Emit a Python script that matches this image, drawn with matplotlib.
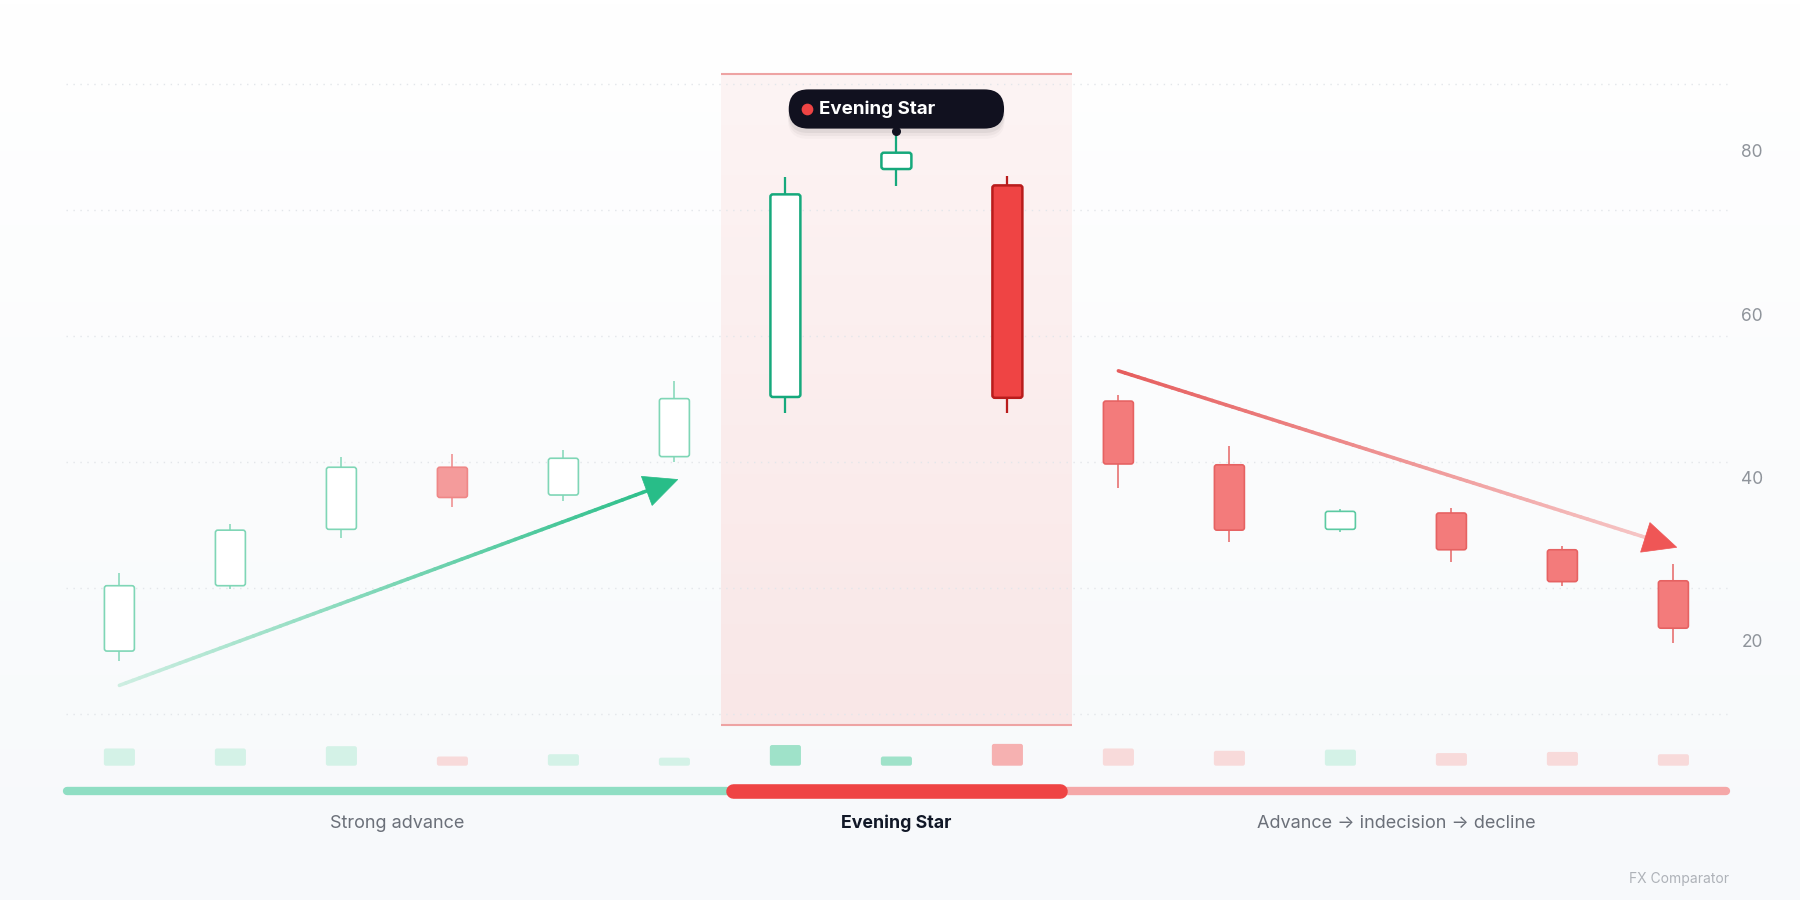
import numpy as np
import matplotlib
matplotlib.use("Agg")
import matplotlib.pyplot as plt
from matplotlib.patches import FancyBboxPatch, Polygon
from matplotlib.collections import LineCollection
from matplotlib.transforms import blended_transform_factory
import matplotlib.colors as mcolors

plt.rcParams['font.family'] = ['Inter', 'DejaVu Sans']

# ---------------- data ----------------
opens  = [19.0, 27.0, 33.9, 41.5, 38.1, 42.8, 50.1, 78.0, 76.0, 49.6, 41.8, 33.9, 35.9, 31.4, 27.6]
highs  = [28.6, 34.5, 42.8, 43.1, 43.6, 52.0, 77.0, 82.6, 77.1, 50.4, 44.1, 36.4, 36.5, 31.9, 29.7]
lows   = [17.8, 26.6, 32.9, 36.6, 37.4, 42.1, 48.1, 75.9, 48.1, 39.0, 32.4, 33.6, 29.9, 27.0, 20.0]
closes = [27.0, 33.8, 41.5, 37.8, 42.6, 49.9, 74.9, 80.0, 50.0, 41.9, 33.8, 36.1, 31.4, 27.5, 21.8]
volumes = [15, 15, 17, 8, 10, 7, 18, 8, 19, 15, 13, 14, 11, 12, 10]
pattern_idx = [6, 7, 8]
pattern_name = "Evening Star"
phase_labels = ["Strong advance", "Evening Star", "Advance \u2192 indecision \u2192 decline"]
phase_start = [-0.5, 5.5, 8.5]
phase_end = [5.5, 8.5, 14.5]
y_ticks = [20, 40, 60, 80]
grid_levels = [88.4, 73.0, 57.6, 42.2, 26.7, 11.3]
highlight_range = (10.0, 89.6)
trend_up = [(0.0, 14.8), (5.03, 40.0)]
trend_down = [(9.0, 53.3), (14.03, 31.7)]

# ---------------- layout ----------------
W, H, DPI = 18, 9, 100
fig = plt.figure(figsize=(W, H), dpi=DPI)
Wpx, Hpx = W * DPI, H * DPI
x0_px, dx_px = 119.4, 111.0
y80_px, ppu = 152.7, 8.17

# background gradient
bg = fig.add_axes([0, 0, 1, 1], zorder=-10)
grad = np.linspace(0, 1, 256)[:, None]
bg_cmap = mcolors.LinearSegmentedColormap.from_list("bg", ["#ffffff", "#f7f9fb"])
bg.imshow(grad, aspect="auto", cmap=bg_cmap, extent=[0, 1, 0, 1], origin="upper")
bg.set_axis_off()

ax = fig.add_axes([0, 0, 1, 1])
ax.patch.set_alpha(0)
xlim = (-x0_px / dx_px, (Wpx - x0_px) / dx_px)
ylim = (80 - (Hpx - y80_px) / ppu, 80 + y80_px / ppu)
ax.set_xlim(*xlim)
ax.set_ylim(*ylim)
ax.set_axis_off()
asp = ((ylim[1] - ylim[0]) / Hpx) / ((xlim[1] - xlim[0]) / Wpx)

# highlight band
b0, b1 = pattern_idx[0] - 0.58, pattern_idx[-1] + 0.58
band_cmap = mcolors.LinearSegmentedColormap.from_list("band", ["#fdf4f4", "#f9e7e7"])
ax.imshow(grad, aspect="auto", cmap=band_cmap, extent=[b0, b1, highlight_range[0], highlight_range[1]],
          origin="upper", zorder=0)
for yv in highlight_range:
    ax.plot([b0, b1], [yv, yv], color="#eea3a3", lw=1.5, zorder=1, solid_capstyle="butt")

# grid
for g in grid_levels:
    ax.plot([phase_start[0] + 0.02, phase_end[-1] - 0.02], [g, g], color="#e3e6ea", lw=1.0,
            linestyle=(0, (1, 4)), zorder=1)

# y tick labels
tr_lbl = blended_transform_factory(fig.transFigure, ax.transData)
for t in y_ticks:
    ax.text(1752 / Wpx, t, str(t), transform=tr_lbl, ha="center", va="center",
            fontsize=12.5, color="#8f949b")

# candles
bw = 0.27
for i, (o, h, l, c) in enumerate(zip(opens, highs, lows, closes)):
    bull = c >= o
    pat = i in pattern_idx
    if pat:
        if bull:
            face, edge, lw = "#ffffff", "#16a97c", 1.8
        else:
            face, edge, lw = "#ef4444", "#b91c1c", 1.8
    else:
        if bull:
            face, edge, lw = "#ffffff", "#7fd6b6", 1.2
            if i > pattern_idx[-1]:
                edge = "#5ccaa2"
        else:
            if i < pattern_idx[0]:
                face, edge, lw = "#f49b9b", "#ef8787", 1.2
            else:
                face, edge, lw = "#f37b7b", "#e66262", 1.2
    ax.plot([i, i], [l, h], color=edge, lw=lw * 0.9, zorder=3, solid_capstyle="butt")
    lo, hi = min(o, c), max(o, c)
    box = FancyBboxPatch((i - bw / 2, lo), bw, hi - lo,
                         boxstyle="round,pad=0,rounding_size=0.022", mutation_aspect=asp,
                         facecolor=face, edgecolor=edge, lw=lw, zorder=4)
    ax.add_patch(box)


# gradient arrows
def gradient_arrow(p_start, p_end, c0, c1, head_c, lw=2.6, head_len=33, head_w=31, n=80):
    P0 = ax.transData.transform(p_start)
    P1 = ax.transData.transform(p_end)
    d = P1 - P0
    L = np.hypot(*d)
    u = d / L
    nrm = np.array([-u[1], u[0]])
    base = P1 - u * head_len * 0.7
    pts_disp = np.linspace(P0, base, n + 1)
    pts = ax.transData.inverted().transform(pts_disp)
    segs = np.stack([pts[:-1], pts[1:]], axis=1)
    cm = mcolors.LinearSegmentedColormap.from_list("g", [c0, c1])
    cols = cm(np.linspace(0, 1, n))
    lc = LineCollection(segs, colors=cols, linewidths=lw, capstyle="round", zorder=5)
    ax.add_collection(lc)
    hb = P1 - u * head_len
    tri = np.array([P1, hb + nrm * head_w / 2, hb - nrm * head_w / 2])
    tri_d = ax.transData.inverted().transform(tri)
    ax.add_patch(Polygon(tri_d, closed=True, facecolor=head_c, edgecolor=head_c, lw=0.5, zorder=6))


gradient_arrow(trend_up[0], trend_up[1], "#cdeee1", "#2dbf8b", "#28bd88")
gradient_arrow(trend_down[0], trend_down[1], "#e65e5e", "#f6c6c6", "#ef5656")

# tooltip
pi = pattern_idx[1]
tip_w, tip_h = 1.94, 4.8
tip_y0 = highs[pi] + 0.35
for k, a in [(8, 0.025), (5, 0.035), (2, 0.05)]:
    sh = FancyBboxPatch((pi - tip_w / 2 - k * 0.0009, tip_y0 - k * 0.12 - 0.3), tip_w + k * 0.0018, tip_h,
                        boxstyle=f"round,pad=0,rounding_size={tip_h / 2 / asp}", mutation_aspect=asp,
                        facecolor="#000000", edgecolor="none", alpha=a, zorder=7)
    ax.add_patch(sh)
tip = FancyBboxPatch((pi - tip_w / 2, tip_y0), tip_w, tip_h,
                     boxstyle=f"round,pad=0,rounding_size={tip_h / 2 / asp}", mutation_aspect=asp,
                     facecolor="#11111f", edgecolor="none", zorder=8)
ax.add_patch(tip)
ax.scatter([pi], [highs[pi]], s=30, color="#11111f", zorder=9)
ax.scatter([pi - 0.805], [tip_y0 + tip_h / 2], s=55, color="#ef4444", zorder=9)
ax.text(pi - 0.70, tip_y0 + tip_h / 2, pattern_name, ha="left", va="center", fontsize=13.5,
        fontweight="bold", color="#ffffff", zorder=10)

# volume
vol_bottom_px = 765.7
vol_h_px = 40
ax_vol = fig.add_axes([0, 1 - vol_bottom_px / Hpx, 1, vol_h_px / Hpx])
ax_vol.patch.set_alpha(0)
ax_vol.set_xlim(*xlim)
ax_vol.set_ylim(0, vol_h_px / 1.148)
ax_vol.set_axis_off()
vasp = ((vol_h_px / 1.148) / vol_h_px) / ((xlim[1] - xlim[0]) / Wpx)
for i, v in enumerate(volumes):
    bull = closes[i] >= opens[i]
    if i in pattern_idx:
        col = "#9fe2c9" if bull else "#f6b1b1"
    else:
        col = "#d4f2e7" if bull else "#f8dada"
    ax_vol.add_patch(FancyBboxPatch((i - 0.14, 0), 0.28, v,
                                    boxstyle="round,pad=0,rounding_size=0.02", mutation_aspect=vasp,
                                    facecolor=col, edgecolor="none"))

# phase timeline
tr_tl = blended_transform_factory(ax.transData, fig.transFigure)
tl_y = 1 - 791 / Hpx
lbl_y = 1 - 823 / Hpx
phase_cols = ["#8fdec3", "#ef4444", "#f5a8a8"]
phase_lw = [6.0, 10.5, 6.0]
for k in [0, 2, 1]:
    ax.plot([phase_start[k] + 0.03, phase_end[k] - 0.03], [tl_y, tl_y], transform=tr_tl,
            color=phase_cols[k], lw=phase_lw[k], solid_capstyle="round", zorder=5 + (k == 1))
for k in range(3):
    mid = (phase_start[k] + phase_end[k]) / 2
    if k == 1:
        ax.text(mid, lbl_y, phase_labels[k], transform=tr_tl, ha="center", va="center",
                fontsize=12.8, fontweight="bold", color="#111827")
    else:
        ax.text(mid, lbl_y, phase_labels[k], transform=tr_tl, ha="center", va="center",
                fontsize=13, color="#6b7079")

fig.text(1729 / Wpx, 1 - 879 / Hpx, "FX Comparator", ha="right", va="center",
         fontsize=10, color="#aeb2b8")

fig.savefig("out.png", dpi=DPI)
